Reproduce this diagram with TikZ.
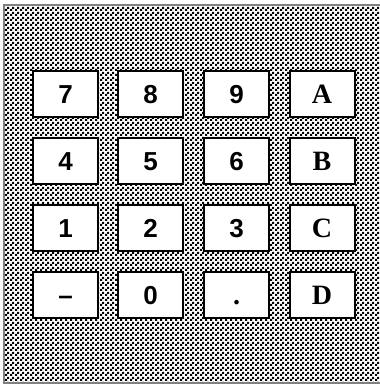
\documentclass[tikz,border=0pt]{standalone}
\usepackage{fontspec}
\setmainfont{Liberation Serif}
\setsansfont{Liberation Sans}
\usepackage{tikz}
\usetikzlibrary{patterns}

% small checkerboard for the panel
\pgfdeclarepatternformonly{fineboard}{\pgfpointorigin}{\pgfqpoint{4.6pt}{4.6pt}}{\pgfqpoint{4.6pt}{4.6pt}}{%
  \pgfpathrectangle{\pgfpointorigin}{\pgfqpoint{2.3pt}{2.3pt}}%
  \pgfpathrectangle{\pgfqpoint{2.3pt}{2.3pt}}{\pgfqpoint{2.3pt}{2.3pt}}%
  \pgfusepath{fill}}

\begin{document}
\begin{tikzpicture}[
    x=1pt, y=-1pt,
    key/.style={rectangle, draw, line width=2pt, fill=white, inner sep=0pt,
      minimum width=65pt, minimum height=46pt, text height=18pt, text depth=0pt},
    digit/.style={key, font=\sffamily\bfseries\fontsize{26}{26}\selectfont},
    letter/.style={key, font=\rmfamily\bfseries\fontsize{28}{28}\selectfont}
]
\useasboundingbox (0,0) rectangle (380,386);

% Panel
\fill[white] (0,0) rectangle (380,386);
\fill[pattern=fineboard, pattern color=black] (4,5) rectangle (381,383);
\draw[gray, line width=1.2pt] (381,5) -- (4,5) -- (4,383) -- (381,383);

% Keys
\node[digit] (k7) at (65.5,94) {7};
\node[digit] (k8) at (150.5,94) {8};
\node[digit] (k9) at (236.5,94) {9};
\node[letter] (kA) at (322,94) {A};

\node[digit] (k4) at (65.5,161) {4};
\node[digit] (k5) at (150.5,161) {5};
\node[digit] (k6) at (236.5,161) {6};
\node[letter] (kB) at (322,161) {B};

\node[digit] (k1) at (65.5,228) {1};
\node[digit] (k2) at (150.5,228) {2};
\node[digit] (k3) at (236.5,228) {3};
\node[letter] (kC) at (322,228) {C};

\node[digit] (kminus) at (65.5,295) {--};
\node[digit] (k0) at (150.5,295) {0};
\node[letter] (kdot) at (236.5,295) {.};
\node[letter] (kD) at (322,295) {D};
\end{tikzpicture}
\end{document}
